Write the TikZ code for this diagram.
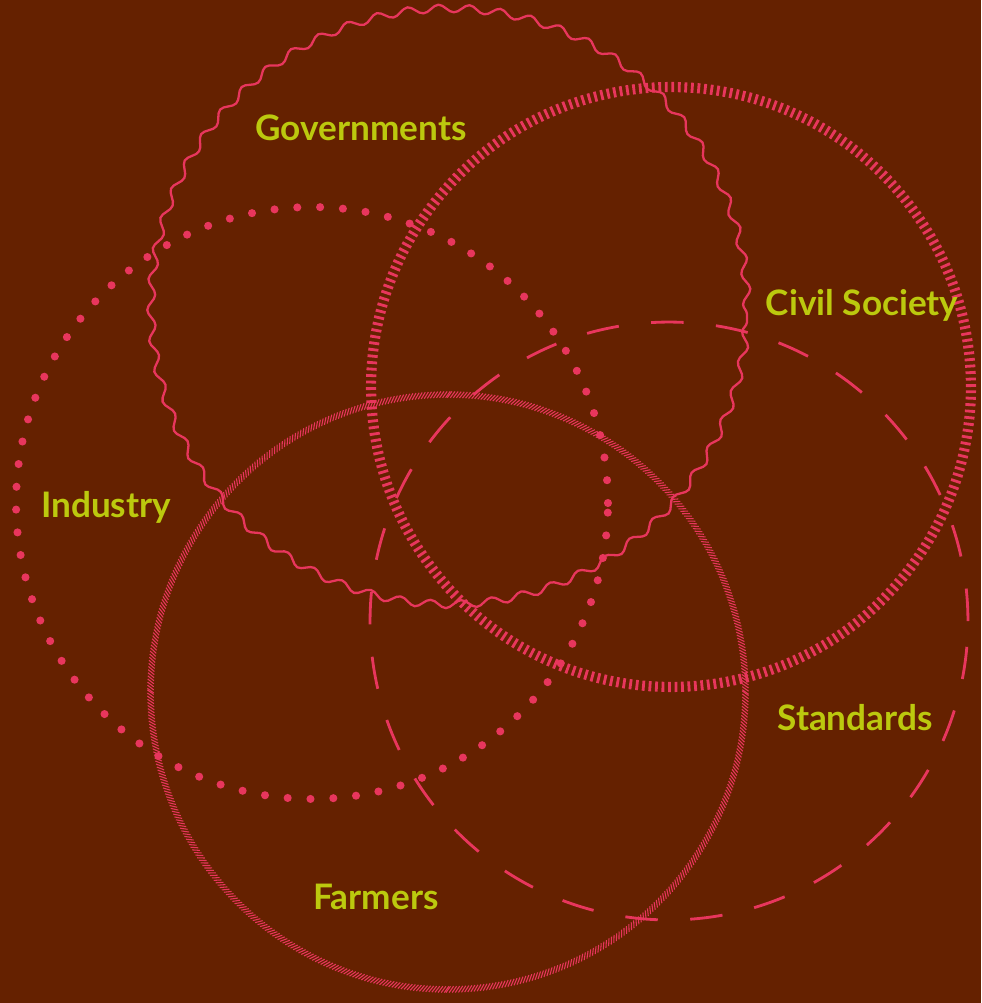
\documentclass[tikz,border=0pt]{standalone}
\usepackage{fontspec}
\setsansfont{Lato}
\usetikzlibrary{decorations.pathmorphing, decorations.markings}
\definecolor{soilBrown}{RGB}{101, 33, 0}
\definecolor{ringPink}{RGB}{232, 54, 93}
\definecolor{tagLime}{RGB}{188, 201, 14}
\tikzset{
    ring/.style={
        draw=ringPink
    },
    wavy/.style={
        ring,
        line width=1.3pt,
        decorate,
        decoration={snake, segment length=17.5pt, amplitude=2.2pt}
    },
    ticked/.style={
        ring,
        line width=5.8pt,
        dash pattern=on 1.6pt off 2.1pt
    },
    dotted ring/.style={
        ring,
        line width=4.6pt,
        line cap=round,
        dash pattern=on 0pt off 13pt
    },
    long dashes/.style={
        ring,
        line width=1.6pt,
        dash pattern=on 18.5pt off 18.5pt
    },
    hatched/.style={
        postaction={decorate},
        decoration={markings,
            mark=between positions 0 and 1 step 1.75pt with {
                \draw[ringPink, line width=0.6pt] (-1.3pt,-1.8pt) -- (1.3pt,1.8pt);
            }
        }
    },
    tag/.style={
        font=\sffamily\bfseries\fontsize{20}{22}\selectfont,
        text=tagLime,
        inner sep=0pt
    }
}

\begin{document}
\begin{tikzpicture}[x=0.02cm, y=-0.02cm]
  % backdrop
  \fill[soilBrown] (0,0) rectangle (981,1003);
  \useasboundingbox (0,0) rectangle (981,1003);

  % the five circles
  \coordinate (govC) at (449,314);
  \coordinate (civC) at (671,387);
  \coordinate (indC) at (312,503);
  \coordinate (stdC) at (669,621);
  \coordinate (farC) at (448,692);

  \path[wavy] (govC) circle[radius=5.96cm];
  \path[ticked] (civC) circle[radius=6cm];
  \path[dotted ring] (indC) circle[radius=5.92cm];
  \path[long dashes] (stdC) circle[radius=5.98cm];
  \path[hatched] (farC) circle[radius=5.95cm];

  % labels
  \node[tag] (gov) at (361,128) {Governments};
  \node[tag] (civ) at (862,305) {Civil Society};
  \node[tag] (ind) at (106,507) {Industry};
  \node[tag] (std) at (855,718) {Standards};
  \node[tag] (far) at (376,897) {Farmers};
\end{tikzpicture}
\end{document}
